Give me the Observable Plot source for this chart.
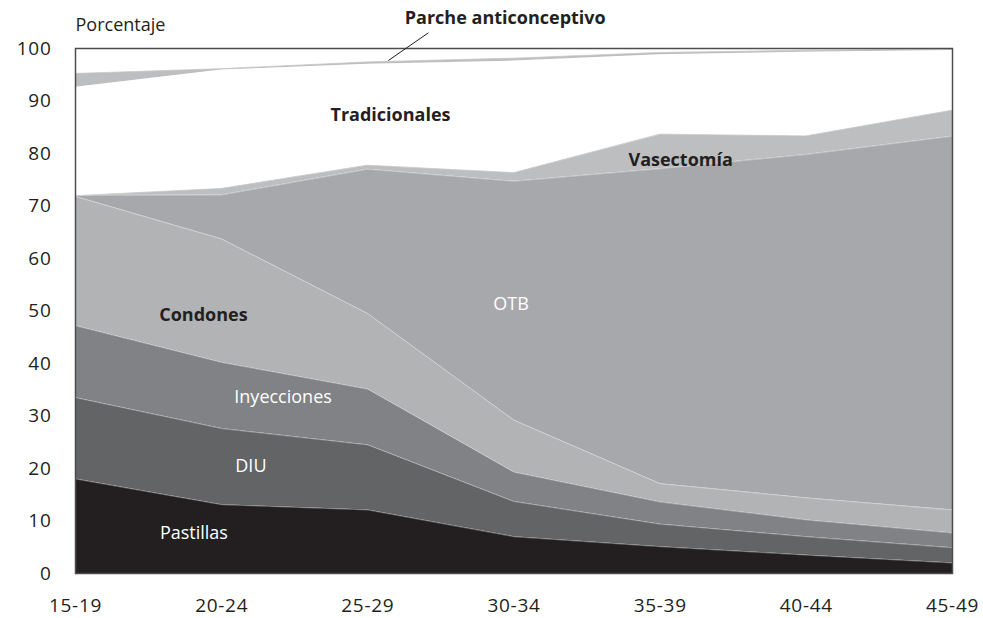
<!DOCTYPE html>
<html>
<head>
<meta charset="utf-8">
<script src="https://cdn.jsdelivr.net/npm/d3@7"></script>
<script src="https://cdn.jsdelivr.net/npm/@observablehq/plot@0.6"></script>
<style>
  html, body { margin: 0; padding: 0; background: #fff; }
  #chart { width: 983px; height: 618px; }
  .tick-lbl text { letter-spacing: 0.7px; }
</style>
</head>
<body>
<div id="chart"></div>
<script>
const ageGroups = ["15-19", "20-24", "25-29", "30-34", "35-39", "40-44", "45-49"];
const pastillas     = [18.0, 13.1, 12.1, 7.0, 5.1, 3.5, 2.0];
const diu           = [15.5, 14.5, 12.4, 6.7, 4.3, 3.5, 2.9];
const inyecciones   = [13.7, 12.6, 10.6, 5.6, 4.2, 3.2, 2.8];
const condones      = [24.6, 23.5, 14.4, 9.9, 3.5, 4.2, 4.4];
const otb           = [0.2, 8.4, 27.5, 45.5, 60.0, 65.4, 71.2];
const vasectomia    = [0.0, 1.3, 0.8, 1.7, 6.6, 3.6, 5.0];
const tradicionales = [20.6, 22.5, 19.2, 21.2, 15.1, 15.9, 11.3];
const parche        = [2.7, 0.3, 0.5, 0.6, 0.5, 0.4, 0.3];
const otros         = [4.7, 3.8, 2.5, 1.8, 0.7, 0.3, 0.1];
const yTicks = [0, 10, 20, 30, 40, 50, 60, 70, 80, 90, 100];

const seriesNames = ["Pastillas", "DIU", "Inyecciones", "Condones", "OTB", "Vasectomía", "Tradicionales", "Parche anticonceptivo", "Otros"];
const seriesValues = [pastillas, diu, inyecciones, condones, otb, vasectomia, tradicionales, parche, otros];
const seriesColors = ["#231f20", "#636466", "#808285", "#b2b3b5", "#a7a8ab", "#bcbec0", "#ffffff", "#bcbec0", "#ffffff"];

const data = [];
seriesNames.forEach((name, s) => {
  seriesValues[s].forEach((v, i) => data.push({method: name, i, value: v}));
});

const font = "'Open Sans', 'Noto Sans', sans-serif";

const plot = Plot.plot({
  width: 983,
  height: 618,
  marginTop: 48,
  marginRight: 31,
  marginBottom: 45,
  marginLeft: 75,
  style: {fontFamily: font, fontSize: "18px", color: "#231f20", background: "#fff", overflow: "visible"},
  x: {domain: [0, ageGroups.length - 1], label: null},
  y: {domain: [0, 100], label: null},
  color: {domain: seriesNames, range: seriesColors},
  marks: [
    Plot.areaY(data, Plot.stackY({x: "i", y: "value", z: "method", fill: "method", order: null})),
    Plot.lineY(data, Plot.stackY2({x: "i", y: "value", z: "method", order: null, stroke: "#ffffff", strokeWidth: 0.6, strokeOpacity: 0.55})),
    Plot.frame({stroke: "#4d4d4f", strokeWidth: 1.5}),
    Plot.axisX({
      ticks: d3.range(ageGroups.length),
      tickFormat: i => ageGroups[i],
      tickSize: 0,
      tickPadding: 25,
      fontSize: 19,
      fill: "#231f20",
      className: "tick-lbl",
      label: null
    }),
    Plot.axisY({
      ticks: yTicks,
      tickSize: 0,
      tickPadding: 24,
      fontSize: 19,
      fill: "#231f20",
      className: "tick-lbl",
      label: null
    }),
    Plot.text(["Pastillas"], {x: 0.81, y: 7.6, text: d => d, fill: "#fff", fontSize: 18}),
    Plot.text(["DIU"], {x: 1.2, y: 20.4, text: d => d, fill: "#fff", fontSize: 18}),
    Plot.text(["Inyecciones"], {x: 1.42, y: 33.5, text: d => d, fill: "#fff", fontSize: 18}),
    Plot.text(["Condones"], {x: 0.875, y: 49.1, text: d => d, fill: "#231f20", fontSize: 18, fontWeight: "bold"}),
    Plot.text(["OTB"], {x: 2.98, y: 51.2, text: d => d, fill: "#fff", fontSize: 18}),
    Plot.text(["Vasectomía"], {x: 4.14, y: 78.7, text: d => d, fill: "#231f20", fontSize: 18, fontWeight: "bold"}),
    Plot.text(["Tradicionales"], {x: 2.155, y: 87.2, text: d => d, fill: "#231f20", fontSize: 18, fontWeight: "bold"}),
    Plot.text(["Parche anticonceptivo"], {x: 2.94, y: 105.7, text: d => d, fill: "#231f20", fontSize: 18, fontWeight: "bold", clip: false}),
    Plot.link([0], {x1: 2.415, y1: 103.0, x2: 2.14, y2: 97.7, stroke: "#231f20", strokeWidth: 1, clip: false}),
    Plot.text(["Porcentaje"], {x: 0, y: 104.4, text: d => d, textAnchor: "start", fill: "#231f20", fontSize: 18, clip: false})
  ]
});

document.getElementById("chart").appendChild(plot);
</script>
</body>
</html>
